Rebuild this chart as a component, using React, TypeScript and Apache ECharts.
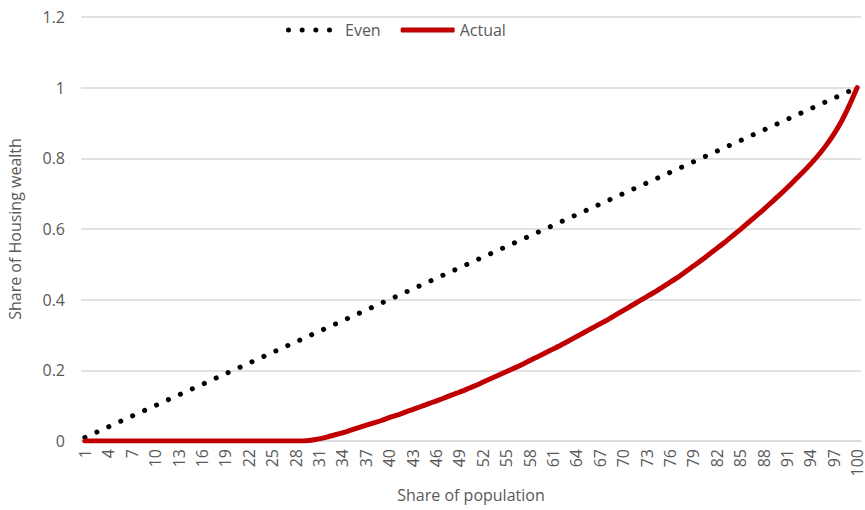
import React, { useEffect, useRef } from "react";
import * as echarts from "echarts";

const categories: string[] = [
  "1","2","3","4","5","6","7","8","9","10",
  "11","12","13","14","15","16","17","18","19","20",
  "21","22","23","24","25","26","27","28","29","30",
  "31","32","33","34","35","36","37","38","39","40",
  "41","42","43","44","45","46","47","48","49","50",
  "51","52","53","54","55","56","57","58","59","60",
  "61","62","63","64","65","66","67","68","69","70",
  "71","72","73","74","75","76","77","78","79","80",
  "81","82","83","84","85","86","87","88","89","90",
  "91","92","93","94","95","96","97","98","99","100",
];

const evenShare: number[] = [
  0.01,0.02,0.03,0.04,0.05,0.06,0.07,0.08,0.09,0.10,
  0.11,0.12,0.13,0.14,0.15,0.16,0.17,0.18,0.19,0.20,
  0.21,0.22,0.23,0.24,0.25,0.26,0.27,0.28,0.29,0.30,
  0.31,0.32,0.33,0.34,0.35,0.36,0.37,0.38,0.39,0.40,
  0.41,0.42,0.43,0.44,0.45,0.46,0.47,0.48,0.49,0.50,
  0.51,0.52,0.53,0.54,0.55,0.56,0.57,0.58,0.59,0.60,
  0.61,0.62,0.63,0.64,0.65,0.66,0.67,0.68,0.69,0.70,
  0.71,0.72,0.73,0.74,0.75,0.76,0.77,0.78,0.79,0.80,
  0.81,0.82,0.83,0.84,0.85,0.86,0.87,0.88,0.89,0.90,
  0.91,0.92,0.93,0.94,0.95,0.96,0.97,0.98,0.99,1.00,
];

const actualShare: number[] = [
  0,0,0,0,0,0,0,0,0,0,
  0,0,0,0,0,0,0,0,0,0,
  0,0,0,0,0,0,0,0,0,0.002,
  0.006,0.011,0.017,0.023,0.030,0.037,0.044,0.051,0.058,0.066,
  0.073,0.081,0.089,0.097,0.105,0.113,0.121,0.130,0.138,0.147,
  0.156,0.166,0.176,0.186,0.196,0.206,0.216,0.227,0.238,0.249,
  0.260,0.271,0.283,0.295,0.307,0.319,0.331,0.343,0.356,0.369,
  0.382,0.395,0.408,0.421,0.435,0.449,0.463,0.479,0.495,0.511,
  0.528,0.545,0.562,0.580,0.598,0.617,0.636,0.655,0.675,0.695,
  0.716,0.738,0.760,0.783,0.808,0.836,0.868,0.905,0.950,1.000,
];

const yTicks = { min: 0, max: 1.2, interval: 0.2 };

const FONT = "'Open Sans', 'Noto Sans', sans-serif";
const TEXT_COLOR = "#595959";
const GRID_COLOR = "#d9d9d9";

// four dots over the first 46px of a 54px-wide icon box (degenerate point extends the box)
const DOTS_ICON =
  "path://M0,2.5a2.5,2.5 0 1,0 5,0a2.5,2.5 0 1,0 -5,0Z" +
  "M13.67,2.5a2.5,2.5 0 1,0 5,0a2.5,2.5 0 1,0 -5,0Z" +
  "M27.33,2.5a2.5,2.5 0 1,0 5,0a2.5,2.5 0 1,0 -5,0Z" +
  "M41,2.5a2.5,2.5 0 1,0 5,0a2.5,2.5 0 1,0 -5,0Z" +
  "M54,0L54,0M54,5L54,5";

export default function App() {
  const ref = useRef<HTMLDivElement>(null);

  useEffect(() => {
    document.body.style.margin = "0";
    if (!ref.current) return;
    const chart = echarts.init(ref.current, null, { renderer: "svg" });
    chart.setOption({
      animation: false,
      backgroundColor: "#ffffff",
      textStyle: { fontFamily: FONT },
      legend: {
        left: 281,
        top: 17,
        itemWidth: 54,
        itemHeight: 5,
        itemGap: 20,
        textStyle: { fontFamily: FONT, fontSize: 16, color: TEXT_COLOR },
        data: [
          { name: "Even", icon: DOTS_ICON },
          { name: "Actual", icon: "roundRect" },
        ],
      },
      grid: {
        left: 81,
        right: 4,
        top: 17,
        bottom: 69,
        containLabel: false,
        outerBoundsMode: "none",
      },
      xAxis: {
        type: "category",
        data: categories,
        boundaryGap: true,
        name: "Share of population",
        nameLocation: "middle",
        nameGap: 46,
        nameTextStyle: { fontFamily: FONT, fontSize: 16, color: TEXT_COLOR },
        axisLine: { show: true, lineStyle: { color: GRID_COLOR, width: 1.5 } },
        axisTick: { show: false },
        axisLabel: {
          interval: 2,
          rotate: 90,
          margin: 8,
          fontFamily: FONT,
          fontSize: 16,
          color: TEXT_COLOR,
        },
        splitLine: { show: false },
      },
      yAxis: {
        type: "value",
        min: yTicks.min,
        max: yTicks.max,
        interval: yTicks.interval,
        name: "Share of Housing wealth",
        nameLocation: "middle",
        nameGap: 58,
        nameTextStyle: { fontFamily: FONT, fontSize: 16, color: TEXT_COLOR },
        axisLine: { show: false },
        axisTick: { show: false },
        axisLabel: {
          margin: 16,
          fontFamily: FONT,
          fontSize: 16,
          color: TEXT_COLOR,
        },
        splitLine: { show: true, lineStyle: { color: GRID_COLOR, width: 1.5 } },
      },
      series: [
        {
          name: "Even",
          type: "line",
          data: evenShare,
          color: "#000000",
          showSymbol: false,
          symbol: "none",
          lineStyle: {
            color: "#000000",
            width: 5,
            type: [0.1, 13],
            cap: "round",
          },
        },
        {
          name: "Actual",
          type: "line",
          data: actualShare,
          color: "#C00000",
          showSymbol: false,
          symbol: "none",
          smooth: 0.2,
          lineStyle: {
            color: "#C00000",
            width: 5,
            cap: "round",
            join: "round",
          },
        },
      ],
    });
    return () => chart.dispose();
  }, []);

  return <div ref={ref} style={{ width: 865, height: 510 }} />;
}
